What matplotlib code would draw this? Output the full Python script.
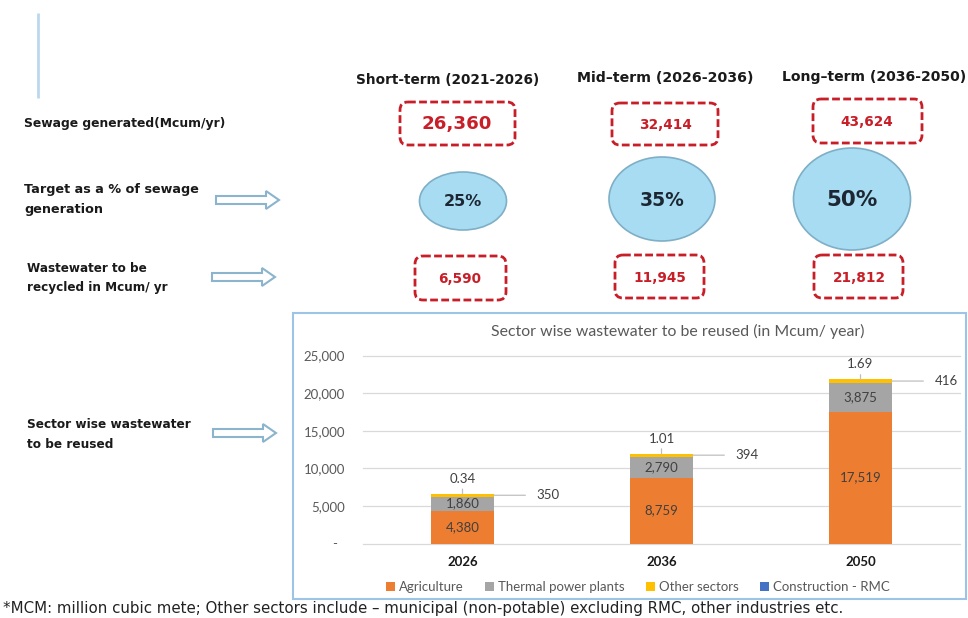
import matplotlib
matplotlib.use('Agg')
import matplotlib.pyplot as plt
from matplotlib.patches import FancyBboxPatch, Ellipse, FancyArrow, Rectangle
from matplotlib.ticker import FuncFormatter

# ---------------- data ----------------
terms = ["Short-term (2021-2026)", "Mid\u2013term (2026-2036)", "Long\u2013term (2036-2050)"]
sewage_generated = [26360, 32414, 43624]
target_pct = [25, 35, 50]
recycled = [6590, 11945, 21812]
row_labels = [["Sewage generated(Mcum/yr)"],
              ["Target as a % of sewage", "generation"],
              ["Wastewater to be", "recycled in Mcum/ yr"],
              ["Sector wise wastewater", "to be reused"]]
years = ["2026", "2036", "2050"]
sectors = ["Agriculture", "Thermal power plants", "Other sectors", "Construction - RMC"]
agriculture = [4380, 8759, 17519]
thermal = [1860, 2790, 3875]
other = [350, 394, 416]
construction = [0.34, 1.01, 1.69]
chart_title = "Sector wise wastewater to be reused (in Mcum/ year)"
footnote = ("*MCM: million cubic mete; Other sectors include \u2013 municipal (non-potable) "
            "excluding RMC, other industries etc.")

# ---------------- layout (pixels) ----------------
W, H = 968, 618
fig = plt.figure(figsize=(W / 100, H / 100), dpi=100)
bg = fig.add_axes([0, 0, 1, 1])
bg.set_xlim(0, W)
bg.set_ylim(H, 0)
bg.axis('off')
renderer = fig.canvas.get_renderer()

TOPFONT = 'DejaVu Sans'
CHARTFONT = 'Lato'
RED = '#C81E28'


def fit(ax, x, y, s, width, scale=1.0, **kw):
    t = ax.text(x, y, s, **kw)
    bb = t.get_window_extent(renderer)
    t.set_fontsize(t.get_fontsize() * width / bb.width * scale)
    return t


# vertical accent line
bg.plot([38, 38], [13, 98], color='#BDD7EE', lw=2, solid_capstyle='butt')

# column headers
hdr_pos = [(448, 80, 183), (665, 78, 176), (874, 77, 185)]
for s, (cx, cy, w) in zip(terms, hdr_pos):
    fit(bg, cx, cy, s, w, ha='center', va='center', fontweight='bold',
        family=TOPFONT, color='#1a1a1a')

# row labels
row_pos = [(24, [123], 203), (24, [190, 210], 176), (27, [268, 288], 120), (27, [425, 445], 165)]
for lines, (x, ys, w) in zip(row_labels, row_pos):
    t0 = fit(bg, x, ys[0], lines[0], w, ha='left', va='center', fontweight='bold',
             family=TOPFONT, color='#1a1a1a')
    for s, y in zip(lines[1:], ys[1:]):
        bg.text(x, y, s, ha='left', va='center', fontweight='bold', family=TOPFONT,
                color='#1a1a1a', fontsize=t0.get_fontsize())

# hollow arrows
for (xa, xb, y) in [(216, 279, 200), (212, 275, 277), (213, 276, 433)]:
    bg.add_patch(FancyArrow(xa, y, xb - xa, 0, width=8, head_width=18, head_length=13,
                            length_includes_head=True, fc='white', ec='#8CB4CC', lw=1.5))

# dashed red boxes
box1 = [(400, 102, 515, 145), (612, 103, 718, 145), (813, 99, 922, 143)]
box3 = [(415, 256, 506, 300), (615, 255, 704, 298), (814, 255, 903, 298)]
for (xa, ya, xb, yb) in box1 + box3:
    bg.add_patch(FancyBboxPatch((xa, ya), xb - xa, yb - ya,
                                boxstyle='round,pad=0,rounding_size=8',
                                fill=False, ec=RED, lw=2.0, ls=(0, (2.8, 1.2))))

# numbers inside boxes
fit(bg, 457, 124, f'{sewage_generated[0]:,}', 64, scale=1.1, ha='center', va='center',
    fontweight='bold', family=TOPFONT, color=RED)
ref = fit(bg, 665, 125, f'{sewage_generated[1]:,}', 49, scale=1.08, ha='center',
          va='center', fontweight='bold', family=TOPFONT, color=RED)
small_fs = ref.get_fontsize()
bg.text(867, 122, f'{sewage_generated[2]:,}', ha='center', va='center', fontweight='bold',
        family=TOPFONT, color=RED, fontsize=small_fs)
num3_pos = [(460, 279), (660, 278), (859, 278)]
for v, (cx, cy) in zip(recycled, num3_pos):
    bg.text(cx, cy, f'{v:,}', ha='center', va='center', fontweight='bold',
            family=TOPFONT, color=RED, fontsize=small_fs)

# ellipses
ell_pos = [(463, 201, 87, 58, 35), (662, 199, 106, 84, 41), (852, 199, 117, 102, 47)]
for p, (cx, cy, ew, eh, tw) in zip(target_pct, ell_pos):
    bg.add_patch(Ellipse((cx, cy), ew, eh, fc='#A8DCF2', ec='#7EAFC6', lw=1.2))
    fit(bg, cx, cy + 1, f'{p}%', tw, scale=1.1, ha='center', va='center',
        fontweight='bold', family=TOPFONT, color='#1C2733')

# chart frame and title
bg.add_patch(Rectangle((293, 313), 966 - 293, 599 - 313, fill=False, ec='#9DC3E6', lw=1.5))
fit(bg, 678, 331, chart_title, 373, ha='center', va='center', family=CHARTFONT,
    color='#595959')

# footnote
fit(bg, 3, 609, footnote, 835, ha='left', va='center', family=TOPFONT, color='#222222')

# ---------------- stacked bar chart ----------------
x0, x1, y0, y1 = 363, 960, 543.5, 355.5
ax = fig.add_axes([x0 / W, (H - y0) / H, (x1 - x0) / W, (y0 - y1) / H])
ax.set_xlim(-0.5, 2.5)
ax.set_ylim(0, 25000)
idx = list(range(len(years)))
bw = 0.317
colors = ['#ED7D31', '#A5A5A5', '#FFC000', '#4472C4']
bottom = [0] * len(years)
series = [agriculture, thermal, other, construction]
for name, vals, c in zip(sectors, series, colors):
    ax.bar(idx, vals, bw, bottom=bottom, color=c, label=name, zorder=3)
    bottom = [b + v for b, v in zip(bottom, vals)]

for i in idx:
    a, t, o, c = agriculture[i], thermal[i], other[i], construction[i]
    ax.text(i, a / 2, f'{a:,}', ha='center', va='center', fontsize=9.5,
            family=CHARTFONT, color='#404040', zorder=4)
    ax.text(i, a + t / 2, f'{t:,}', ha='center', va='center', fontsize=9.5,
            family=CHARTFONT, color='#404040', zorder=4)
    ax.annotate(f'{o:,}', xy=(i + bw / 2, a + t + o / 2), xytext=(54, 0),
                textcoords='offset pixels', ha='center', va='center', fontsize=9.5,
                family=CHARTFONT, color='#404040',
                arrowprops=dict(arrowstyle='-', color='#BFBFBF', lw=0.9,
                                shrinkA=6, shrinkB=0))
    ax.annotate(f'{c:.2f}', xy=(i, a + t + o + c), xytext=(0, 15),
                textcoords='offset pixels', ha='center', va='center', fontsize=9.5,
                family=CHARTFONT, color='#404040',
                arrowprops=dict(arrowstyle='-', color='#BFBFBF', lw=0.9,
                                shrinkA=1, shrinkB=0))

ax.set_yticks(range(0, 25001, 5000))
ax.yaxis.set_major_formatter(FuncFormatter(lambda v, p: '-  ' if v == 0 else f'{v:,.0f}'))
ax.set_xticks(idx)
ax.set_xticklabels(years, fontweight='bold', family=CHARTFONT, fontsize=9.5, color='#1a1a1a')
for lab in ax.get_yticklabels():
    lab.set_family(CHARTFONT)
    lab.set_fontsize(9.5)
    lab.set_color('#595959')
ax.tick_params(axis='y', length=0, pad=13)
ax.tick_params(axis='x', length=0, pad=9)
ax.yaxis.grid(True, color='#D9D9D9', lw=0.9)
for gl in ax.get_ygridlines():
    gl.set_clip_on(False)
ax.set_axisbelow(True)
for sp in ax.spines.values():
    sp.set_visible(False)
ax.patch.set_alpha(0)

leg = ax.legend(loc='center', bbox_to_anchor=(638 / W, 1 - 587 / H),
                bbox_transform=fig.transFigure, ncol=4, frameon=False,
                handlelength=0.7, handleheight=0.7, handletextpad=0.3,
                columnspacing=1.6, prop={'family': CHARTFONT, 'size': 9.5})
for t in leg.get_texts():
    t.set_color('#595959')

fig.savefig('out.png', dpi=100)
